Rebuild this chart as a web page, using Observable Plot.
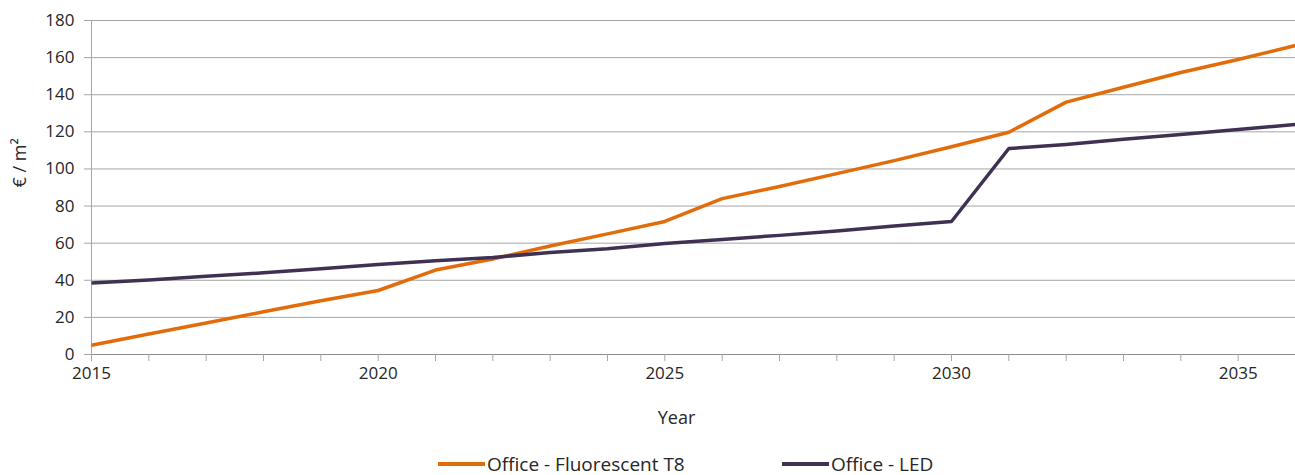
<!DOCTYPE html>
<html>
<head>
<meta charset="utf-8">
<script src="https://cdn.jsdelivr.net/npm/d3@7"></script>
<script src="https://cdn.jsdelivr.net/npm/@observablehq/plot@0.6"></script>
<style>
  body { margin: 0; background: #fff; font-family: "Open Sans", sans-serif; overflow: hidden; }
  #legend { height: 35px; font-size: 19px; color: #262626; position: relative; }
  .item { position: absolute; top: 12px; display: flex; align-items: center; line-height: 24px; }
  .swatch { width: 47px; height: 4px; margin-right: 2px; }
</style>
</head>
<body>
<div id="chart"></div>
<div id="legend"></div>
<script>
const years = d3.range(2015, 2037);
const fluorescentT8 = [5, 11, 17, 23, 29, 34.5, 45.5, 51.5, 58.5, 65, 71.7, 84, 90.5, 97.5, 104.5, 112, 119.8, 136, 144, 152, 159, 166.5];
const led = [38.5, 40.2, 42.2, 44, 46.2, 48.5, 50.5, 52.3, 55, 57, 59.8, 62, 64.2, 66.5, 69.2, 71.7, 111, 113.2, 116, 118.5, 121.2, 124];
const seriesNames = ["Office - Fluorescent T8", "Office - LED"];
const seriesColors = ["#E36C0A", "#3F3151"];
const yTicks = d3.range(0, 181, 20);

const rows = [];
years.forEach((y, i) => {
  rows.push({year: y, value: fluorescentT8[i], series: seriesNames[0]});
  rows.push({year: y, value: led[i], series: seriesNames[1]});
});

const chart = Plot.plot({
  width: 1295,
  height: 440,
  marginLeft: 91,
  marginRight: 0,
  marginTop: 20,
  marginBottom: 86,
  style: {fontFamily: "'Open Sans', sans-serif", fontSize: "18px", color: "#262626", background: "#fff"},
  x: {domain: [2015, 2036]},
  y: {domain: [0, 180]},
  color: {domain: seriesNames, range: seriesColors},
  marks: [
    Plot.gridY(yTicks, {stroke: "#a6a6a6", strokeOpacity: 1, strokeWidth: 1}),
    Plot.ruleX([2015], {stroke: "#a6a6a6", strokeWidth: 1}),
    Plot.ruleY([0], {stroke: "#8c8c8c", strokeWidth: 1}),
    Plot.axisY(yTicks, {tickSize: 7, tickPadding: 10, stroke: "#a6a6a6", label: null, fontSize: 17}),
    Plot.axisX(years, {tickSize: 7, tickPadding: 5, stroke: "#a6a6a6", label: null, fontSize: 17,
      tickFormat: d => d % 5 === 0 ? String(d) : ""}),
    Plot.line(rows, {x: "year", y: "value", z: "series", stroke: "series", strokeWidth: 3.5, strokeLinejoin: "round", strokeLinecap: "butt"}),
    Plot.text(["Year"], {frameAnchor: "bottom", dx: -17, dy: 69, fontSize: 18, fill: "#262626"}),
    Plot.text(["€ / m²"], {frameAnchor: "left", dx: -71, rotate: -90, fontSize: 18, fill: "#262626"})
  ]
});
document.getElementById("chart").appendChild(chart);

const legend = document.getElementById("legend");
const positions = [438, 782];
seriesNames.forEach((name, i) => {
  const item = document.createElement("div");
  item.className = "item";
  item.style.left = positions[i] + "px";
  const sw = document.createElement("div");
  sw.className = "swatch";
  sw.style.background = seriesColors[i];
  const label = document.createElement("span");
  label.textContent = name;
  item.appendChild(sw);
  item.appendChild(label);
  legend.appendChild(item);
});
</script>
</body>
</html>
